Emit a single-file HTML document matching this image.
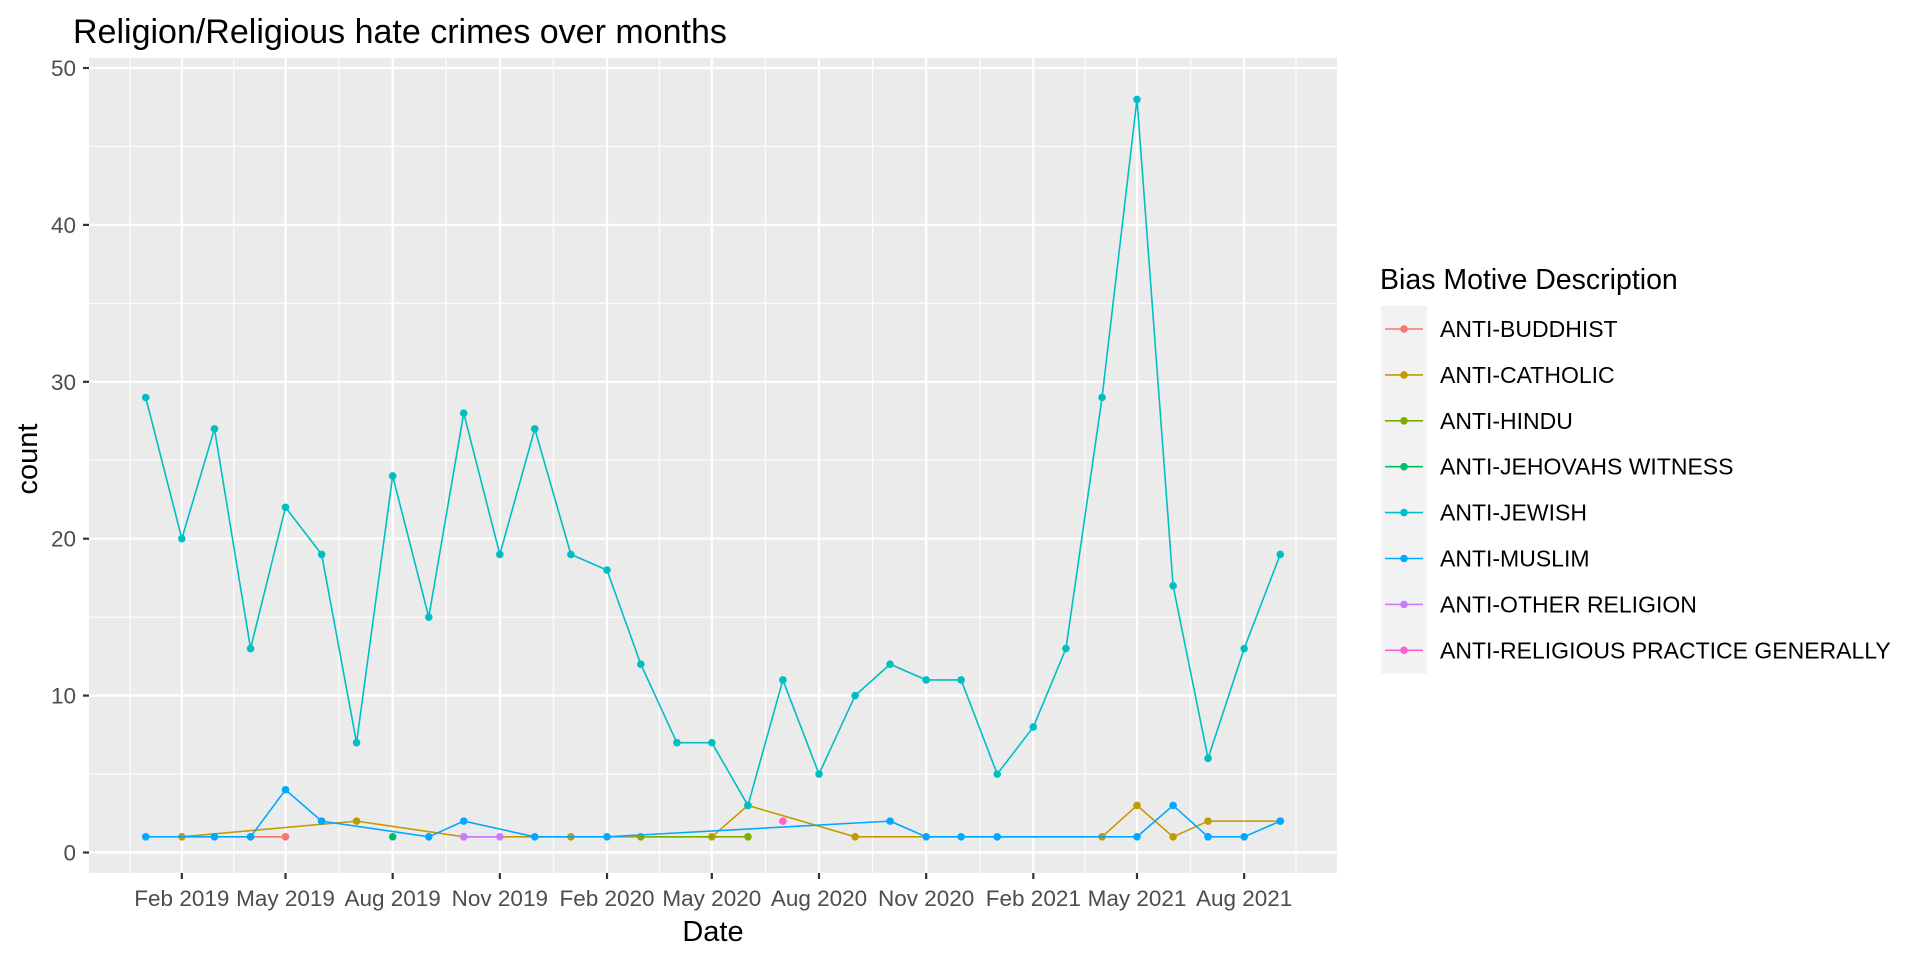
<!DOCTYPE html>
<html><head><meta charset="utf-8"><style>
body{margin:0;background:#fff;}
svg{display:block;font-family:"Liberation Sans",Arial,sans-serif;}
</style></head><body>
<svg id="chart" width="1920" height="960" viewBox="0 0 1920 960" xmlns="http://www.w3.org/2000/svg">
<rect width="1920" height="960" fill="#fff"/>
<text x="73" y="43" font-size="34" fill="#000">Religion/Religious hate crimes over months</text>
<rect x="89" y="58" width="1248" height="815" fill="#EBEBEB"/>
<g id="grid"></g><g id="axes"></g><g id="series"></g><g id="legend"></g>
<text x="713" y="941" font-size="29" text-anchor="middle" fill="#000">Date</text>
<text x="37" y="459" font-size="29" text-anchor="middle" fill="#000" transform="rotate(-90 37 459)">count</text>
</svg>
<script>
const months = ["2019-01","2019-02","2019-03","2019-04","2019-05","2019-06","2019-07","2019-08","2019-09","2019-10","2019-11","2019-12","2020-01","2020-02","2020-03","2020-04","2020-05","2020-06","2020-07","2020-08","2020-09","2020-10","2020-11","2020-12","2021-01","2021-02","2021-03","2021-04","2021-05","2021-06","2021-07","2021-08","2021-09"];
const jewish = [29,20,27,13,22,19,7,24,15,28,19,27,19,18,12,7,7,3,11,5,10,12,11,11,5,8,13,29,48,17,6,13,19];
const buddhist = [["2019-04",1],["2019-05",1]];
const catholic = [["2019-02",1],["2019-07",2],["2019-10",1],["2020-01",1],["2020-05",1],["2020-06",3],["2020-09",1],["2021-04",1],["2021-05",3],["2021-06",1],["2021-07",2],["2021-09",2]];
const hindu = [["2020-03",1],["2020-06",1]];
const jehovah = [["2019-08",1]];
const muslim = [["2019-01",1],["2019-03",1],["2019-04",1],["2019-05",4],["2019-06",2],["2019-09",1],["2019-10",2],["2019-12",1],["2020-02",1],["2020-10",2],["2020-11",1],["2020-12",1],["2021-01",1],["2021-05",1],["2021-06",3],["2021-07",1],["2021-08",1],["2021-09",2]];
const otherRel = [["2019-10",1],["2019-11",1]];
const practice = [["2020-07",2]];
const seriesNames = ["ANTI-BUDDHIST","ANTI-CATHOLIC","ANTI-HINDU","ANTI-JEHOVAHS WITNESS","ANTI-JEWISH","ANTI-MUSLIM","ANTI-OTHER RELIGION","ANTI-RELIGIOUS PRACTICE GENERALLY"];
const seriesColors = ["#F8766D","#C49A00","#7CAE00","#00BE67","#00BFC4","#00A9FF","#C77CFF","#FF61CC"];
const yTicks = [0,10,20,30,40,50];
const xTickLabels = ["Feb 2019","May 2019","Aug 2019","Nov 2019","Feb 2020","May 2020","Aug 2020","Nov 2020","Feb 2021","May 2021","Aug 2021"];
const xTickDates = ["2019-02","2019-05","2019-08","2019-11","2020-02","2020-05","2020-08","2020-11","2021-02","2021-05","2021-08"];

const NS="http://www.w3.org/2000/svg";
const PL=89,PR=1337,PT=58,PB=873;
function day(s){const [y,m]=s.split("-").map(Number);return Date.UTC(y,m-1,1)/864e5;}
const d0=day(months[0]),d1=day(months[months.length-1]),dx=(d1-d0)*0.05;
const xmin=d0-dx,xmax=d1+dx;
function xs(d){return PL+(d-xmin)/(xmax-xmin)*(PR-PL);}
const Y0=852.5, Y50=68;
function ys(v){return Y0-v/50*(Y0-Y50);}
function mk(tag,at,parent){const e=document.createElementNS(NS,tag);for(const k in at)e.setAttribute(k,at[k]);parent.appendChild(e);return e;}
const grid=document.getElementById("grid"),axes=document.getElementById("axes"),ser=document.getElementById("series"),leg=document.getElementById("legend");
for(let i=0;i<yTicks.length;i++){
  const y=ys(yTicks[i]);
  let l=mk("line",{x1:PL,x2:PR,y1:y,y2:y,stroke:"#fff","stroke-width":2.2},grid);
  
  
  if(i<yTicks.length-1){const ym=ys((yTicks[i]+yTicks[i+1])/2);
    let m=mk("line",{x1:PL,x2:PR,y1:ym,y2:ym,stroke:"#fff","stroke-width":1.1},grid);
    
    }
  let t=mk("line",{x1:83,x2:89,y1:y,y2:y,stroke:"#333","stroke-width":2.2},axes);
  
  
  let tx=mk("text",{x:76,y:y+8,"font-size":22.5,"text-anchor":"end",fill:"#4D4D4D"},axes);
  
  
  tx.textContent=yTicks[i];
}
const xd=xTickDates.map(day);
const step=xd[1]-xd[0];
const minors=[xd[0]-step/2];
for(let i=0;i<xd.length-1;i++)minors.push((xd[i]+xd[i+1])/2);
minors.push(xd[xd.length-1]+step/2);
minors.forEach(d=>{if(d>xmin&&d<xmax){const x=xs(d);
  let m=mk("line",{x1:x,x2:x,y1:PT,y2:PB,stroke:"#fff","stroke-width":1.1},grid);
  
  }});
xd.forEach((d,i)=>{const x=xs(d);
  let l=mk("line",{x1:x,x2:x,y1:PT,y2:PB,stroke:"#fff","stroke-width":2.2},grid);
  
  
  let t=mk("line",{x1:x,x2:x,y1:PB,y2:PB+6,stroke:"#333","stroke-width":2.2},axes);
  
  
  let tx=mk("text",{x:x,y:906,"font-size":22.5,"text-anchor":"middle",fill:"#4D4D4D"},axes);
  
  
  tx.textContent=xTickLabels[i];});
const data=[buddhist,catholic,hindu,jehovah,months.map((m,i)=>[m,jewish[i]]),muslim,otherRel,practice];
data.forEach((pts,si)=>{
  const c=seriesColors[si];
  const g=mk("g",{},ser);
  
  
  if(pts.length>1){const p=mk("polyline",{points:pts.map(q=>xs(day(q[0]))+","+ys(q[1])).join(" "),fill:"none",stroke:c,"stroke-width":1.6},g);
    
    }
  pts.forEach(q=>{const ci=mk("circle",{cx:xs(day(q[0])),cy:ys(q[1]),r:3.8,fill:c},g);
    
    });
});
let lt=mk("text",{x:1380,y:289,"font-size":28.5,fill:"#000"},leg);


lt.textContent="Bias Motive Description";
seriesNames.forEach((n,i)=>{
  const cy=329+i*45.9;
  const g=mk("g",{},leg);
  
  
  mk("rect",{x:1381,y:cy-23,width:46,height:46,fill:"#F2F2F2"},g);
  mk("line",{x1:1385,x2:1423,y1:cy,y2:cy,stroke:seriesColors[i],"stroke-width":1.6},g);
  mk("circle",{cx:1404,cy:cy,r:3.8,fill:seriesColors[i]},g);
  const t=mk("text",{x:1440,y:cy+8,"font-size":23,fill:"#000"},g);
  t.textContent=n;
});
</script>
</body></html>
